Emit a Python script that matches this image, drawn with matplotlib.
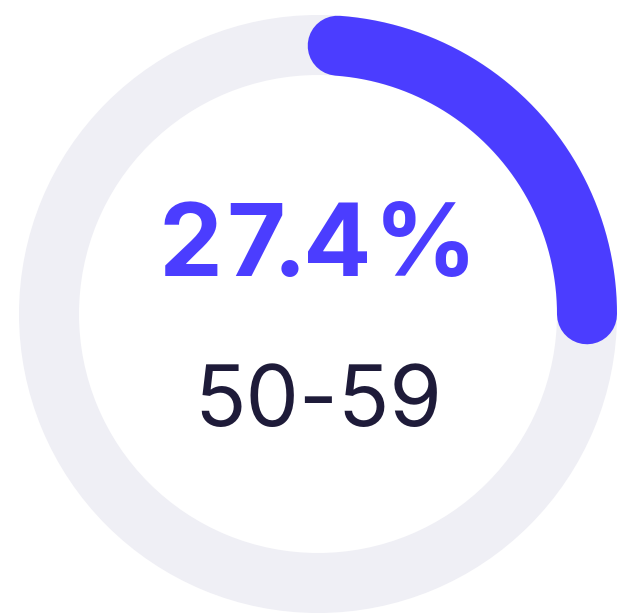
import numpy as np
import matplotlib
matplotlib.use("Agg")
import matplotlib.pyplot as plt
from matplotlib.patches import Wedge

# Data
percent_value = 27.4
value_label = "27.4%"
category_label = "50-59"

# Styles
track_color = "#EFEFF5"
arc_color = "#4B3DFF"
text_dark = "#1E1B39"

W, H = 620, 615
big_kw = dict(fontsize=73, fontweight="bold", family=["Inter", "DejaVu Sans"], color=arc_color)


def make_axes(fig):
    ax = fig.add_axes([0, 0, 1, 1])
    ax.set_xlim(0, W)
    ax.set_ylim(H, 0)
    ax.set_aspect("equal")
    ax.axis("off")
    return ax


# measure the ink extents of each glyph (for tight letter spacing)
fig_m = plt.figure(figsize=(W / 100, H / 100), dpi=100)
ax_m = make_axes(fig_m)
ink = []
for ch in value_label:
    t = ax_m.text(100, 276, ch, ha="left", va="baseline", **big_kw)
    fig_m.canvas.draw()
    arr = np.asarray(fig_m.canvas.buffer_rgba())[..., :3].astype(int)
    mask = arr.sum(axis=2) < 740
    cols = np.where(mask.any(axis=0))[0]
    ink.append((cols.min() - 100, cols.max() + 1 - 100))
    t.remove()
plt.close(fig_m)

fig = plt.figure(figsize=(W / 100, H / 100), dpi=100)
ax = make_axes(fig)

cx, cy = 318, 314
r_out, ring_w = 299, 60
r_mid = r_out - ring_w / 2

# background track
ax.add_patch(Wedge((cx, cy), r_out, 0, 360, width=ring_w, facecolor=track_color, edgecolor="none"))

# progress arc (round caps inset by cap radius)
cap_ang = np.degrees((ring_w / 2) / r_mid)
start = 4.2
end = start + 360 * percent_value / 100 - 2 * cap_ang
theta = np.radians(np.linspace(start, end, 300))
xs = cx + r_mid * np.sin(theta)
ys = cy - r_mid * np.cos(theta)
lw_pt = ring_w * 72 / 100
ax.plot(xs, ys, color=arc_color, lw=lw_pt, solid_capstyle="round")

# big value label, glyph by glyph with tight spacing
gaps = [12, -2, 9, 16]
widths = [r - l for l, r in ink]
total = sum(widths) + sum(gaps)
x_ink = 316 - total / 2
for i, ch in enumerate(value_label):
    ax.text(x_ink - ink[i][0], 276, ch, ha="left", va="baseline", **big_kw)
    if i < len(gaps):
        x_ink += widths[i] + gaps[i]

ax.text(318, 426, category_label, ha="center", va="baseline", fontsize=61,
        family=["Inter", "DejaVu Sans"], color=text_dark)

fig.savefig("out.png", dpi=100, facecolor="white")
